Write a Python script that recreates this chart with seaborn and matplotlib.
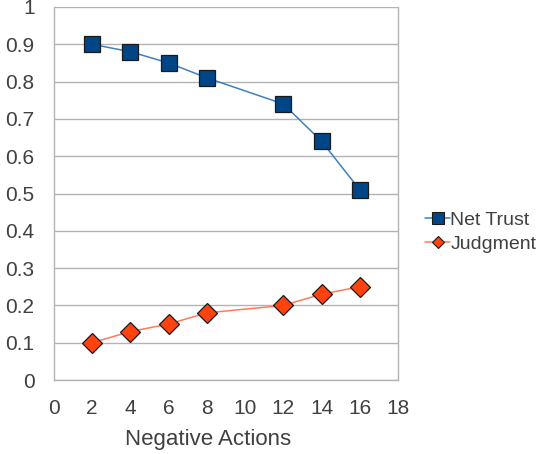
import matplotlib
matplotlib.use("Agg")
import matplotlib.pyplot as plt
import seaborn as sns
import pandas as pd
from matplotlib.lines import Line2D

negative_actions = [2, 4, 6, 8, 12, 14, 16]
net_trust = [0.90, 0.88, 0.85, 0.81, 0.74, 0.64, 0.51]
judgment = [0.10, 0.13, 0.15, 0.18, 0.20, 0.23, 0.25]
x_ticks = [0, 2, 4, 6, 8, 10, 12, 14, 16, 18]
y_ticks = [0, 0.1, 0.2, 0.3, 0.4, 0.5, 0.6, 0.7, 0.8, 0.9, 1]
y_tick_labels = ["0", "0.1", "0.2", "0.3", "0.4", "0.5", "0.6", "0.7", "0.8", "0.9", "1"]

sns.set_style("white")
plt.rcParams['font.family'] = ['Liberation Sans', 'DejaVu Sans']

fig = plt.figure(figsize=(5.45, 4.54), dpi=100)
ax = fig.add_axes([54/545, 1-380/454, (398-54)/545, (380-7)/454])

df_nt = pd.DataFrame({"x": negative_actions, "y": net_trust})
df_j = pd.DataFrame({"x": negative_actions, "y": judgment})

nt_line = "#3f7fbf"
nt_face = "#004586"
j_line = "#ff7a5a"
j_face = "#ff420e"
edge = "#1a1a1a"

sns.lineplot(data=df_nt, x="x", y="y", ax=ax, color=nt_line, lw=1.1,
             marker="s", markersize=12, markerfacecolor=nt_face,
             markeredgecolor=edge, markeredgewidth=0.9, zorder=3)
sns.lineplot(data=df_j, x="x", y="y", ax=ax, color=j_line, lw=1.1,
             marker="D", markersize=10, markerfacecolor=j_face,
             markeredgecolor=edge, markeredgewidth=0.9, zorder=3)

ax.set_xlim(0, 18)
ax.set_ylim(0, 1)
ax.set_xticks(x_ticks)
ax.set_yticks(y_ticks)
ax.set_yticklabels(y_tick_labels)
grid_c = "#b3b3b3"
ax.yaxis.grid(True, color=grid_c, lw=1)
ax.xaxis.grid(False)
for s in ["left", "right", "bottom"]:
    ax.spines[s].set_visible(True)
    ax.spines[s].set_color(grid_c)
    ax.spines[s].set_linewidth(1)
ax.spines["top"].set_visible(False)
ax.tick_params(axis="both", which="both", length=8, width=1, color=grid_c,
               labelsize=15, labelcolor="#404040", pad=6)
ax.tick_params(axis="y", length=10, pad=4)
ax.set_xlabel("Negative Actions", fontsize=16, color="#404040")
ax.xaxis.set_label_coords((208-54)/344, -(440-380)/373)
ax.xaxis.label.set_va("center")
ax.set_ylabel("")

handles = [
    Line2D([0], [0], color=nt_line, lw=1.1, marker="s", markersize=8,
           markerfacecolor=nt_face, markeredgecolor=edge, markeredgewidth=0.8),
    Line2D([0], [0], color=j_line, lw=1.1, marker="D", markersize=6.5,
           markerfacecolor=j_face, markeredgecolor=edge, markeredgewidth=0.8),
]
fig.legend(handles, ["Net Trust", "Judgment"], loc="center left",
           bbox_to_anchor=(425/545, 1-232/454), frameon=False, fontsize=14,
           handlelength=1.3, handletextpad=0.0, labelspacing=0.3,
           borderaxespad=0, borderpad=0, labelcolor="#404040")

fig.savefig("out.png", dpi=100)
